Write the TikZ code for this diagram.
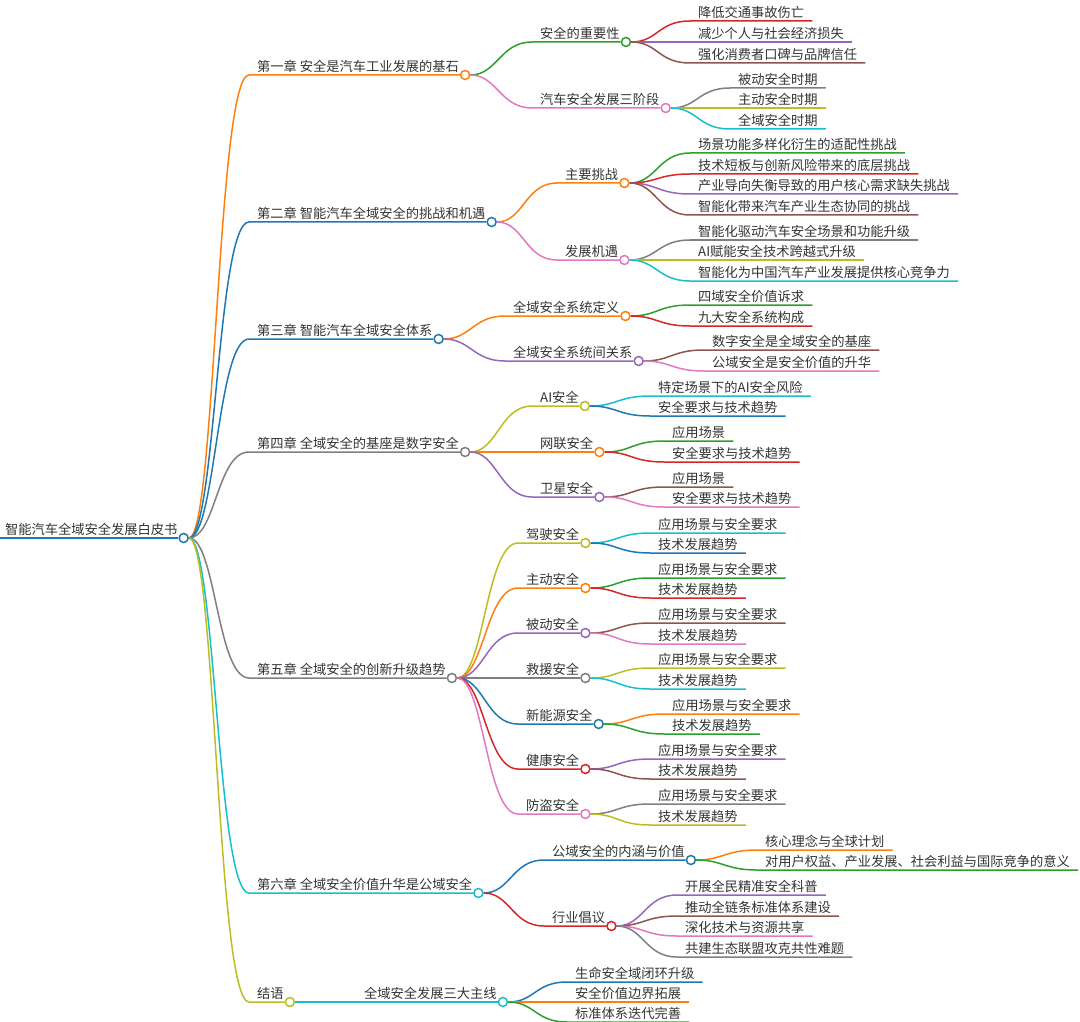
\documentclass[tikz,border=0pt]{standalone}
\usepackage{fontspec}
\setmainfont{Noto Sans CJK SC}
\usepackage{tikz}
\usetikzlibrary{backgrounds}

\definecolor{cBlue}{HTML}{1F77B4}
\definecolor{cOrange}{HTML}{FF7F0E}
\definecolor{cGreen}{HTML}{2CA02C}
\definecolor{cRed}{HTML}{D62728}
\definecolor{cPurple}{HTML}{9467BD}
\definecolor{cBrown}{HTML}{8C564B}
\definecolor{cPink}{HTML}{E377C2}
\definecolor{cGray}{HTML}{7F7F7F}
\definecolor{cOlive}{HTML}{BCBD22}
\definecolor{cCyan}{HTML}{17BECF}
\definecolor{txtgray}{HTML}{333333}

\newcommand{\mapfont}{\fontsize{13.25}{16}\selectfont}

\tikzset{
  topic/.style={anchor=south west, inner xsep=8pt, inner ysep=1.5pt,
    text height=10pt, text depth=2pt, text=txtgray, font=\mapfont},
  hub/.style={circle, draw=#1, fill=white, line width=1.5pt,
    minimum size=9pt, inner sep=0pt},
  twig/.style={draw=#1, line width=1.5pt},
}

\begin{document}
\begin{tikzpicture}[x=1pt, y=-1pt]
  \useasboundingbox (0,0) rectangle (1080,1022);
  % root
  \node[topic] (root) at (-3,538) {智能汽车全域安全发展白皮书};
  \node[hub=cBlue] (rootk) at ([xshift=-2pt]root.south east) {};
  % chapters
  \node[topic] (ch1) at (249,75) {第一章 安全是汽车工业发展的基石};
  \node[hub=cOrange] (ch1k) at ([xshift=-2pt]ch1.south east) {};
  \node[topic] (ch2) at (249,222) {第二章 智能汽车全域安全的挑战和机遇};
  \node[hub=cBlue] (ch2k) at ([xshift=-2pt]ch2.south east) {};
  \node[topic] (ch3) at (249,339) {第三章 智能汽车全域安全体系};
  \node[hub=cBlue] (ch3k) at ([xshift=-2pt]ch3.south east) {};
  \node[topic] (ch4) at (249,452) {第四章 全域安全的基座是数字安全};
  \node[hub=cGray] (ch4k) at ([xshift=-2pt]ch4.south east) {};
  \node[topic] (ch5) at (249,678) {第五章 全域安全的创新升级趋势};
  \node[hub=cGray] (ch5k) at ([xshift=-2pt]ch5.south east) {};
  \node[topic] (ch6) at (249,893) {第六章 全域安全价值升华是公域安全};
  \node[hub=cCyan] (ch6k) at ([xshift=-2pt]ch6.south east) {};
  \node[topic] (ch7) at (249,1002) {结语};
  \node[hub=cOlive] (ch7k) at ([xshift=-2pt]ch7.south east) {};

  % chapter 1
  \node[topic] (a1) at (532,42) {安全的重要性};
  \node[hub=cGreen] (a1k) at ([xshift=-2pt]a1.south east) {};
  \node[topic] (a1a) at (690,21) {降低交通事故伤亡};
  \node[topic] (a1b) at (690,42) {减少个人与社会经济损失};
  \node[topic] (a1c) at (690,63) {强化消费者口碑与品牌信任};
  \node[topic] (a2) at (532,108) {汽车安全发展三阶段};
  \node[hub=cPink] (a2k) at ([xshift=-2pt]a2.south east) {};
  \node[topic] (a2a) at (730,88) {被动安全时期};
  \node[topic] (a2b) at (730,108) {主动安全时期};
  \node[topic] (a2c) at (730,129) {全域安全时期};

  % chapter 2
  \node[topic] (b1) at (557,183) {主要挑战};
  \node[hub=cOrange] (b1k) at ([xshift=-2pt]b1.south east) {};
  \node[topic] (b1a) at (690,153) {场景功能多样化衍生的适配性挑战};
  \node[topic] (b1b) at (690,174) {技术短板与创新风险带来的底层挑战};
  \node[topic] (b1c) at (690,194) {产业导向失衡导致的用户核心需求缺失挑战};
  \node[topic] (b1d) at (690,215) {智能化带来汽车产业生态协同的挑战};
  \node[topic] (b2) at (557,260) {发展机遇};
  \node[hub=cPink] (b2k) at ([xshift=-2pt]b2.south east) {};
  \node[topic] (b2a) at (690,240) {智能化驱动汽车安全场景和功能升级};
  \node[topic] (b2b) at (690,260) {AI赋能安全技术跨越式升级};
  \node[topic] (b2c) at (690,281) {智能化为中国汽车产业发展提供核心竞争力};

  % chapter 3
  \node[topic] (c1) at (505,316) {全域安全系统定义};
  \node[hub=cOrange] (c1k) at ([xshift=-2pt]c1.south east) {};
  \node[topic] (c1a) at (690,305) {四域安全价值诉求};
  \node[topic] (c1b) at (690,326) {九大安全系统构成};
  \node[topic] (c2) at (505,361) {全域安全系统间关系};
  \node[hub=cPurple] (c2k) at ([xshift=-2pt]c2.south east) {};
  \node[topic] (c2a) at (704,350) {数字安全是全域安全的基座};
  \node[topic] (c2b) at (704,371) {公域安全是安全价值的升华};

  % chapter 4
  \node[topic] (d1) at (532,406) {AI安全};
  \node[hub=cOlive] (d1k) at ([xshift=-2pt]d1.south east) {};
  \node[topic] (d1a) at (650,396) {特定场景下的AI安全风险};
  \node[topic] (d1b) at (650,416) {安全要求与技术趋势};
  \node[topic] (d2) at (532,452) {网联安全};
  \node[hub=cOrange] (d2k) at ([xshift=-2pt]d2.south east) {};
  \node[topic] (d2a) at (664,441) {应用场景};
  \node[topic] (d2b) at (664,462) {安全要求与技术趋势};
  \node[topic] (d3) at (532,497) {卫星安全};
  \node[hub=cPurple] (d3k) at ([xshift=-2pt]d3.south east) {};
  \node[topic] (d3a) at (664,487) {应用场景};
  \node[topic] (d3b) at (664,507) {安全要求与技术趋势};

  % chapter 5
  \node[topic] (e1) at (518,543) {驾驶安全};
  \node[hub=cOlive] (e1k) at ([xshift=-2pt]e1.south east) {};
  \node[topic] (e1a) at (650,533) {应用场景与安全要求};
  \node[topic] (e1b) at (650,553) {技术发展趋势};
  \node[topic] (e2) at (518,588) {主动安全};
  \node[hub=cOrange] (e2k) at ([xshift=-2pt]e2.south east) {};
  \node[topic] (e2a) at (650,578) {应用场景与安全要求};
  \node[topic] (e2b) at (650,598) {技术发展趋势};
  \node[topic] (e3) at (518,633) {被动安全};
  \node[hub=cPurple] (e3k) at ([xshift=-2pt]e3.south east) {};
  \node[topic] (e3a) at (650,623) {应用场景与安全要求};
  \node[topic] (e3b) at (650,644) {技术发展趋势};
  \node[topic] (e4) at (518,678) {救援安全};
  \node[hub=cGray] (e4k) at ([xshift=-2pt]e4.south east) {};
  \node[topic] (e4a) at (650,668) {应用场景与安全要求};
  \node[topic] (e4b) at (650,689) {技术发展趋势};
  \node[topic] (e5) at (518,724) {新能源安全};
  \node[hub=cBlue] (e5k) at ([xshift=-2pt]e5.south east) {};
  \node[topic] (e5a) at (664,714) {应用场景与安全要求};
  \node[topic] (e5b) at (664,734) {技术发展趋势};
  \node[topic] (e6) at (518,769) {健康安全};
  \node[hub=cRed] (e6k) at ([xshift=-2pt]e6.south east) {};
  \node[topic] (e6a) at (650,759) {应用场景与安全要求};
  \node[topic] (e6b) at (650,779) {技术发展趋势};
  \node[topic] (e7) at (518,814) {防盗安全};
  \node[hub=cPink] (e7k) at ([xshift=-2pt]e7.south east) {};
  \node[topic] (e7a) at (650,804) {应用场景与安全要求};
  \node[topic] (e7b) at (650,825) {技术发展趋势};

  % chapter 6
  \node[topic] (f1) at (544,860) {公域安全的内涵与价值};
  \node[hub=cBlue] (f1k) at ([xshift=-2pt]f1.south east) {};
  \node[topic] (f1a) at (757,850) {核心理念与全球计划};
  \node[topic] (f1b) at (757,870) {对用户权益、产业发展、社会利益与国际竞争的意义};
  \node[topic] (f2) at (544,926) {行业倡议};
  \node[hub=cRed] (f2k) at ([xshift=-2pt]f2.south east) {};
  \node[topic] (f2a) at (677,895) {开展全民精准安全科普};
  \node[topic] (f2b) at (677,916) {推动全链条标准体系建设};
  \node[topic] (f2c) at (677,936) {深化技术与资源共享};
  \node[topic] (f2d) at (677,957) {共建生态联盟攻克共性难题};

  % closing words
  \node[topic] (g1) at (356,1002) {全域安全发展三大主线};
  \node[hub=cCyan] (g1k) at ([xshift=-2pt]g1.south east) {};
  \node[topic] (g1a) at (567,982) {生命安全域闭环升级};
  \node[topic] (g1b) at (567,1002) {安全价值边界拓展};
  \node[topic] (g1c) at (567,1022) {标准体系迭代完善};

  \begin{scope}[on background layer]
    \draw[twig=cBlue] (root.south west) -- (rootk);
    \draw[twig=cOrange] (rootk) .. controls +(32,0) and +(-32,0) .. (ch1.south west) -- (ch1k);
    \draw[twig=cBlue] (rootk) .. controls +(32,0) and +(-32,0) .. (ch2.south west) -- (ch2k);
    \draw[twig=cBlue] (rootk) .. controls +(32,0) and +(-32,0) .. (ch3.south west) -- (ch3k);
    \draw[twig=cGray] (rootk) .. controls +(32,0) and +(-32,0) .. (ch4.south west) -- (ch4k);
    \draw[twig=cGray] (rootk) .. controls +(32,0) and +(-32,0) .. (ch5.south west) -- (ch5k);
    \draw[twig=cCyan] (rootk) .. controls +(32,0) and +(-32,0) .. (ch6.south west) -- (ch6k);
    \draw[twig=cOlive] (rootk) .. controls +(32,0) and +(-32,0) .. (ch7.south west) -- (ch7k);

    \draw[twig=cGreen] (ch1k) .. controls +(32,0) and +(-32,0) .. (a1.south west) -- (a1k);
    \draw[twig=cRed] (a1k) .. controls +(32,0) and +(-32,0) .. (a1a.south west) -- (a1a.south east);
    \draw[twig=cPurple] (a1k) .. controls +(32,0) and +(-32,0) .. (a1b.south west) -- (a1b.south east);
    \draw[twig=cBrown] (a1k) .. controls +(32,0) and +(-32,0) .. (a1c.south west) -- (a1c.south east);
    \draw[twig=cPink] (ch1k) .. controls +(32,0) and +(-32,0) .. (a2.south west) -- (a2k);
    \draw[twig=cGray] (a2k) .. controls +(32,0) and +(-32,0) .. (a2a.south west) -- (a2a.south east);
    \draw[twig=cOlive] (a2k) .. controls +(32,0) and +(-32,0) .. (a2b.south west) -- (a2b.south east);
    \draw[twig=cCyan] (a2k) .. controls +(32,0) and +(-32,0) .. (a2c.south west) -- (a2c.south east);

    \draw[twig=cOrange] (ch2k) .. controls +(32,0) and +(-32,0) .. (b1.south west) -- (b1k);
    \draw[twig=cGreen] (b1k) .. controls +(32,0) and +(-32,0) .. (b1a.south west) -- (b1a.south east);
    \draw[twig=cRed] (b1k) .. controls +(32,0) and +(-32,0) .. (b1b.south west) -- (b1b.south east);
    \draw[twig=cPurple] (b1k) .. controls +(32,0) and +(-32,0) .. (b1c.south west) -- (b1c.south east);
    \draw[twig=cBrown] (b1k) .. controls +(32,0) and +(-32,0) .. (b1d.south west) -- (b1d.south east);
    \draw[twig=cPink] (ch2k) .. controls +(32,0) and +(-32,0) .. (b2.south west) -- (b2k);
    \draw[twig=cGray] (b2k) .. controls +(32,0) and +(-32,0) .. (b2a.south west) -- (b2a.south east);
    \draw[twig=cOlive] (b2k) .. controls +(32,0) and +(-32,0) .. (b2b.south west) -- (b2b.south east);
    \draw[twig=cCyan] (b2k) .. controls +(32,0) and +(-32,0) .. (b2c.south west) -- (b2c.south east);

    \draw[twig=cOrange] (ch3k) .. controls +(32,0) and +(-32,0) .. (c1.south west) -- (c1k);
    \draw[twig=cGreen] (c1k) .. controls +(32,0) and +(-32,0) .. (c1a.south west) -- (c1a.south east);
    \draw[twig=cRed] (c1k) .. controls +(32,0) and +(-32,0) .. (c1b.south west) -- (c1b.south east);
    \draw[twig=cPurple] (ch3k) .. controls +(32,0) and +(-32,0) .. (c2.south west) -- (c2k);
    \draw[twig=cBrown] (c2k) .. controls +(32,0) and +(-32,0) .. (c2a.south west) -- (c2a.south east);
    \draw[twig=cPink] (c2k) .. controls +(32,0) and +(-32,0) .. (c2b.south west) -- (c2b.south east);

    \draw[twig=cOlive] (ch4k) .. controls +(32,0) and +(-32,0) .. (d1.south west) -- (d1k);
    \draw[twig=cCyan] (d1k) .. controls +(32,0) and +(-32,0) .. (d1a.south west) -- (d1a.south east);
    \draw[twig=cBlue] (d1k) .. controls +(32,0) and +(-32,0) .. (d1b.south west) -- (d1b.south east);
    \draw[twig=cOrange] (ch4k) .. controls +(32,0) and +(-32,0) .. (d2.south west) -- (d2k);
    \draw[twig=cGreen] (d2k) .. controls +(32,0) and +(-32,0) .. (d2a.south west) -- (d2a.south east);
    \draw[twig=cRed] (d2k) .. controls +(32,0) and +(-32,0) .. (d2b.south west) -- (d2b.south east);
    \draw[twig=cPurple] (ch4k) .. controls +(32,0) and +(-32,0) .. (d3.south west) -- (d3k);
    \draw[twig=cBrown] (d3k) .. controls +(32,0) and +(-32,0) .. (d3a.south west) -- (d3a.south east);
    \draw[twig=cPink] (d3k) .. controls +(32,0) and +(-32,0) .. (d3b.south west) -- (d3b.south east);

    \draw[twig=cOlive] (ch5k) .. controls +(32,0) and +(-32,0) .. (e1.south west) -- (e1k);
    \draw[twig=cCyan] (e1k) .. controls +(32,0) and +(-32,0) .. (e1a.south west) -- (e1a.south east);
    \draw[twig=cBlue] (e1k) .. controls +(32,0) and +(-32,0) .. (e1b.south west) -- (e1b.south east);
    \draw[twig=cOrange] (ch5k) .. controls +(32,0) and +(-32,0) .. (e2.south west) -- (e2k);
    \draw[twig=cGreen] (e2k) .. controls +(32,0) and +(-32,0) .. (e2a.south west) -- (e2a.south east);
    \draw[twig=cRed] (e2k) .. controls +(32,0) and +(-32,0) .. (e2b.south west) -- (e2b.south east);
    \draw[twig=cPurple] (ch5k) .. controls +(32,0) and +(-32,0) .. (e3.south west) -- (e3k);
    \draw[twig=cBrown] (e3k) .. controls +(32,0) and +(-32,0) .. (e3a.south west) -- (e3a.south east);
    \draw[twig=cPink] (e3k) .. controls +(32,0) and +(-32,0) .. (e3b.south west) -- (e3b.south east);
    \draw[twig=cGray] (ch5k) .. controls +(32,0) and +(-32,0) .. (e4.south west) -- (e4k);
    \draw[twig=cOlive] (e4k) .. controls +(32,0) and +(-32,0) .. (e4a.south west) -- (e4a.south east);
    \draw[twig=cCyan] (e4k) .. controls +(32,0) and +(-32,0) .. (e4b.south west) -- (e4b.south east);
    \draw[twig=cBlue] (ch5k) .. controls +(32,0) and +(-32,0) .. (e5.south west) -- (e5k);
    \draw[twig=cOrange] (e5k) .. controls +(32,0) and +(-32,0) .. (e5a.south west) -- (e5a.south east);
    \draw[twig=cGreen] (e5k) .. controls +(32,0) and +(-32,0) .. (e5b.south west) -- (e5b.south east);
    \draw[twig=cRed] (ch5k) .. controls +(32,0) and +(-32,0) .. (e6.south west) -- (e6k);
    \draw[twig=cPurple] (e6k) .. controls +(32,0) and +(-32,0) .. (e6a.south west) -- (e6a.south east);
    \draw[twig=cBrown] (e6k) .. controls +(32,0) and +(-32,0) .. (e6b.south west) -- (e6b.south east);
    \draw[twig=cPink] (ch5k) .. controls +(32,0) and +(-32,0) .. (e7.south west) -- (e7k);
    \draw[twig=cGray] (e7k) .. controls +(32,0) and +(-32,0) .. (e7a.south west) -- (e7a.south east);
    \draw[twig=cOlive] (e7k) .. controls +(32,0) and +(-32,0) .. (e7b.south west) -- (e7b.south east);

    \draw[twig=cBlue] (ch6k) .. controls +(32,0) and +(-32,0) .. (f1.south west) -- (f1k);
    \draw[twig=cOrange] (f1k) .. controls +(32,0) and +(-32,0) .. (f1a.south west) -- (f1a.south east);
    \draw[twig=cGreen] (f1k) .. controls +(32,0) and +(-32,0) .. (f1b.south west) -- (f1b.south east);
    \draw[twig=cRed] (ch6k) .. controls +(32,0) and +(-32,0) .. (f2.south west) -- (f2k);
    \draw[twig=cPurple] (f2k) .. controls +(32,0) and +(-32,0) .. (f2a.south west) -- (f2a.south east);
    \draw[twig=cBrown] (f2k) .. controls +(32,0) and +(-32,0) .. (f2b.south west) -- (f2b.south east);
    \draw[twig=cPink] (f2k) .. controls +(32,0) and +(-32,0) .. (f2c.south west) -- (f2c.south east);
    \draw[twig=cGray] (f2k) .. controls +(32,0) and +(-32,0) .. (f2d.south west) -- (f2d.south east);

    \draw[twig=cCyan] (ch7k) -- (g1.south west) -- (g1k);
    \draw[twig=cBlue] (g1k) .. controls +(32,0) and +(-32,0) .. (g1a.south west) -- (g1a.south east);
    \draw[twig=cOrange] (g1k) .. controls +(32,0) and +(-32,0) .. (g1b.south west) -- (g1b.south east);
    \draw[twig=cGreen] (g1k) .. controls +(32,0) and +(-32,0) .. (g1c.south west) -- (g1c.south east);
  \end{scope}
\end{tikzpicture}
\end{document}
